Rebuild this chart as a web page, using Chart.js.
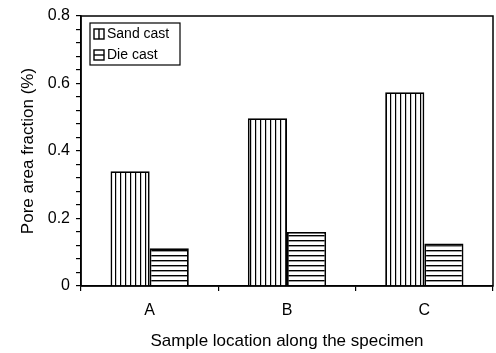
<!DOCTYPE html>
<html>
<head>
<meta charset="utf-8">
<script src="https://cdn.jsdelivr.net/npm/chart.js@4/dist/chart.umd.min.js"></script>
<style>
  html, body { margin: 0; padding: 0; background: #fff; }
  #wrap { width: 496px; height: 353px; }
</style>
</head>
<body>
<div id="wrap"><canvas id="chart" width="496" height="353"></canvas></div>
<script>
const categories = ['A', 'B', 'C'];
const sandCast = [0.34, 0.497, 0.574];
const dieCast = [0.112, 0.16, 0.126];
const seriesNames = ['Sand cast', 'Die cast'];
const yMajorTicks = [0, 0.2, 0.4, 0.6, 0.8];

const FONT = '"Liberation Sans", Arial, Helvetica, sans-serif';

// hatch fills: vertical lines for sand cast, horizontal for die cast
function makePattern(vertical) {
    const c = document.createElement('canvas');
    c.width = 5; c.height = 5;
    const g = c.getContext('2d');
    g.fillStyle = '#fff';
    g.fillRect(0, 0, 5, 5);
    g.fillStyle = '#000';
    if (vertical) g.fillRect(0, 0, 1.2, 5);
    else g.fillRect(0, 0, 5, 1.4);
    return g.createPattern(c, 'repeat');
}

const ctx = document.getElementById('chart').getContext('2d');
const sandFill = makePattern(true);
const dieFill = makePattern(false);

// frame round the plot area + boxed legend in the top-left corner
const framePlugin = {
    id: 'frame',
    afterDraw(chart) {
        const a = chart.chartArea;
        const c = chart.ctx;
        c.save();
        c.strokeStyle = '#000';
        c.lineWidth = 1.5;
        c.strokeRect(a.left, a.top, a.right - a.left, a.bottom - a.top);

        // legend
        const lx = 90, ly = 23, lw = 90, lh = 42;
        c.lineWidth = 1.2;
        c.fillStyle = '#fff';
        c.fillRect(lx, ly, lw, lh);
        c.strokeRect(lx, ly, lw, lh);
        c.font = '14px ' + FONT;
        c.textBaseline = 'middle';
        chart.data.datasets.forEach((ds, i) => {
            const y = ly + 11 + i * 21;
            const sx = 94, sy = y - 5;
            c.fillStyle = '#fff';
            c.fillRect(sx, sy, 10, 10);
            c.strokeStyle = '#000';
            c.lineWidth = 1.4;
            c.beginPath();
            if (i === 0) { c.moveTo(sx + 5, sy); c.lineTo(sx + 5, sy + 10); }
            else { c.moveTo(sx, sy + 5); c.lineTo(sx + 10, sy + 5); }
            c.stroke();
            c.strokeRect(sx, sy, 10, 10);
            c.fillStyle = '#000';
            c.fillText(ds.label, 107, y);
        });
        c.restore();
    }
};

new Chart(ctx, {
    type: 'bar',
    data: {
        labels: categories,
        datasets: [
            { label: seriesNames[0], data: sandCast, backgroundColor: sandFill, borderColor: '#000', borderWidth: 1.8 },
            { label: seriesNames[1], data: dieCast, backgroundColor: dieFill, borderColor: '#000', borderWidth: 1.8 }
        ]
    },
    options: {
        responsive: false,
        animation: false,
        events: [],
        layout: { padding: { left: 0, right: 3, top: 16, bottom: 0 } },
        datasets: { bar: { categoryPercentage: 0.57, barPercentage: 1.0 } },
        plugins: {
            legend: { display: false },
            tooltip: { enabled: false }
        },
        scales: {
            x: {
                grid: { drawOnChartArea: false, color: '#000', tickLength: 5, lineWidth: 1.2, offset: true },
                border: { color: '#000', width: 1.5 },
                ticks: { color: '#000', font: { family: FONT, size: 16 }, padding: 10 },
                title: { display: true, text: 'Sample location along the specimen', color: '#000', font: { family: FONT, size: 17 }, padding: { top: 4, bottom: 1 } },
                afterFit(scale) { scale.height = 67; }
            },
            y: {
                min: 0,
                max: 0.8,
                grid: { drawOnChartArea: false, color: '#000', tickLength: 5, lineWidth: 1.2 },
                border: { color: '#000', width: 1.5 },
                ticks: {
                    stepSize: 0.04,
                    autoSkip: false,
                    color: '#000',
                    font: { family: FONT, size: 16 },
                    padding: 6,
                    callback(v) {
                        const r = Math.round(v * 100) / 100;
                        const hit = yMajorTicks.find(t => Math.abs(t - r) < 1e-6);
                        return hit === undefined ? '' : String(hit);
                    }
                },
                title: { display: true, text: 'Pore area fraction (%)', color: '#000', font: { family: FONT, size: 17 }, padding: { top: 18, bottom: 0 } },
                afterFit(scale) { scale.width = 81; }
            }
        }
    },
    plugins: [framePlugin]
});
</script>
</body>
</html>
